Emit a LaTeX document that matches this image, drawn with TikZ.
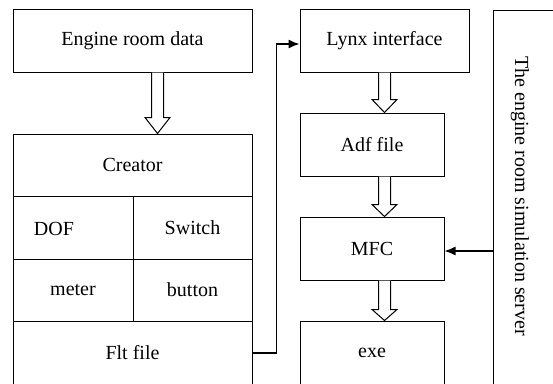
\documentclass[tikz,border=0pt]{standalone}
\usepackage{fontspec}
\setmainfont{Liberation Serif}
\usetikzlibrary{arrows.meta,calc}
\begin{document}
\begin{tikzpicture}[x=1pt,y=-1pt,line width=1pt,
  box/.style={draw,line width=1pt,inner sep=0pt,font=\fontsize{20}{24}\selectfont},
  lbl/.style={inner sep=0pt,font=\fontsize{20}{24}\selectfont},
  arr/.style={-{Latex[length=11pt,width=9pt]},line width=1.3pt},
  hollow/.style={draw,line width=1pt,fill=white,line join=miter}]
\useasboundingbox (0,0) rectangle (553,383);
\clip (0,0) rectangle (553,383);
\newcommand\hollowarrow[4]{%
  \draw[hollow] let \p1=(#1.south), \p2=(#2.north) in
   ({#3pt-6pt},\y1) -- ({#3pt-6pt},{\y2+#4pt}) -- ({#3pt-12.5pt},{\y2+#4pt}) -- (#3pt,\y2)
   -- ({#3pt+12.5pt},{\y2+#4pt}) -- ({#3pt+6pt},{\y2+#4pt}) -- ({#3pt+6pt},\y1);}
% left column
\node[box,minimum width=239pt,minimum height=63pt] (eng) at (132.5,40.5) {Engine room data};
\node[box,minimum width=239pt,minimum height=62pt] (creator) at (132.5,165) {Creator};
\node[box,minimum width=120pt,minimum height=63pt] (dofc) at (73,227.5) {};
\node[lbl] (dof) at (54,229) {DOF};
\node[box,minimum width=119pt,minimum height=63pt] (switch) at (192.5,227.5) {Switch};
\node[box,minimum width=120pt,minimum height=62pt] (meter) at (73,290) {meter};
\node[box,minimum width=119pt,minimum height=62pt] (button) at (192.5,290) {button};
\node[box,minimum width=239pt,minimum height=64pt] (flt) at (132.5,353) {Flt file};
% right column
\node[box,minimum width=169pt,minimum height=63pt] (lynx) at (384.5,40.5) {Lynx interface};
\node[box,minimum width=144pt,minimum height=63pt] (adf) at (372,144.5) {Adf file};
\node[box,minimum width=144pt,minimum height=63pt] (mfc) at (372,248.5) {MFC};
\node[box,minimum width=144pt,minimum height=64pt] (exe) at (372,353) {exe};
\node[box,minimum width=80pt,minimum height=400pt] (server) at (533,210) {};
\node[lbl,rotate=-90] (servertext) at (520,196) {The engine room simulation server};
% hollow arrows
\hollowarrow{eng}{creator}{157.5}{16}
\hollowarrow{lynx}{adf}{384.5}{13}
\hollowarrow{adf}{mfc}{384.5}{12}
\hollowarrow{mfc}{exe}{384.5}{11}
% connectors
\draw[arr] (flt.east) -- ++(24,0) |- ([yshift=-3.5pt]lynx.west);
\draw[arr] ([yshift=-2.5pt]server.west |- mfc.east) -- ([yshift=-2.5pt]mfc.east);
\end{tikzpicture}
\end{document}
